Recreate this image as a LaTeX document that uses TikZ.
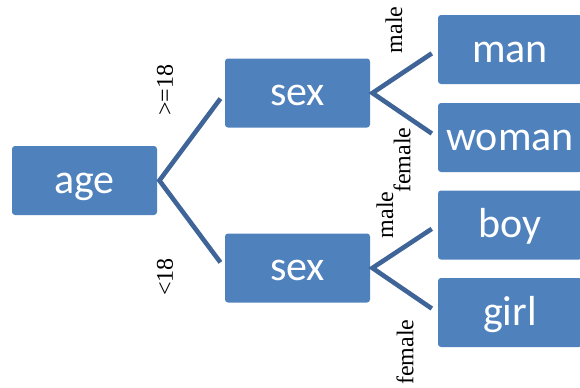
\documentclass[tikz,border=0pt]{standalone}
\usepackage{fontspec}
\setmainfont{Liberation Serif}
\newfontfamily\boxfont{Carlito}
\definecolor{boxblue}{RGB}{79,129,189}
\definecolor{linkblue}{RGB}{63,100,152}
\begin{document}
\begin{tikzpicture}[x=0.5pt,y=-0.5pt,
  box/.style={fill=boxblue,rounded corners=1.5pt,minimum width=72.5pt,minimum height=34.5pt,
    inner sep=0pt,text height=14pt,text depth=1.5pt,text=white,font=\boxfont\fontsize{21}{24}\selectfont},
  link/.style={draw=linkblue,line width=2.3pt,shorten <=3.5pt,shorten >=3.5pt},
  cond/.style={rotate=90,inner sep=0pt,font=\fontsize{12}{14}\selectfont}]
\clip (0,0) rectangle (580,387);
\node[box] (age) at (84.5,180.5) {age};
\node[box] (sexa) at (297.5,93) {sex};
\node[box] (sexb) at (297.5,268) {sex};
\node[box,minimum width=72pt] (man) at (510,49.5) {man};
\node[box,minimum width=72pt] (woman) at (510,137.5) {woman};
\node[box,minimum width=72pt] (boy) at (510,225) {boy};
\node[box,minimum width=72pt] (girl) at (510,312.5) {girl};

\draw[link] (sexa.west) -- ([xshift=1pt]age.east) -- (sexb.west);
\draw[link] (man.west) -- ([xshift=1pt]sexa.east) -- (woman.west);
\draw[link] (boy.west) -- ([xshift=1pt]sexb.east) -- (girl.west);

\node[cond] (old) at (165,90) {>=18};
\node[cond] (young) at (165,277) {<18};
\node[cond] (mala) at (394,30) {male};
\node[cond] (femalea) at (402,160) {female};
\node[cond] (malb) at (385,215) {male};
\node[cond] (femaleb) at (405,352) {female};
\end{tikzpicture}
\end{document}
